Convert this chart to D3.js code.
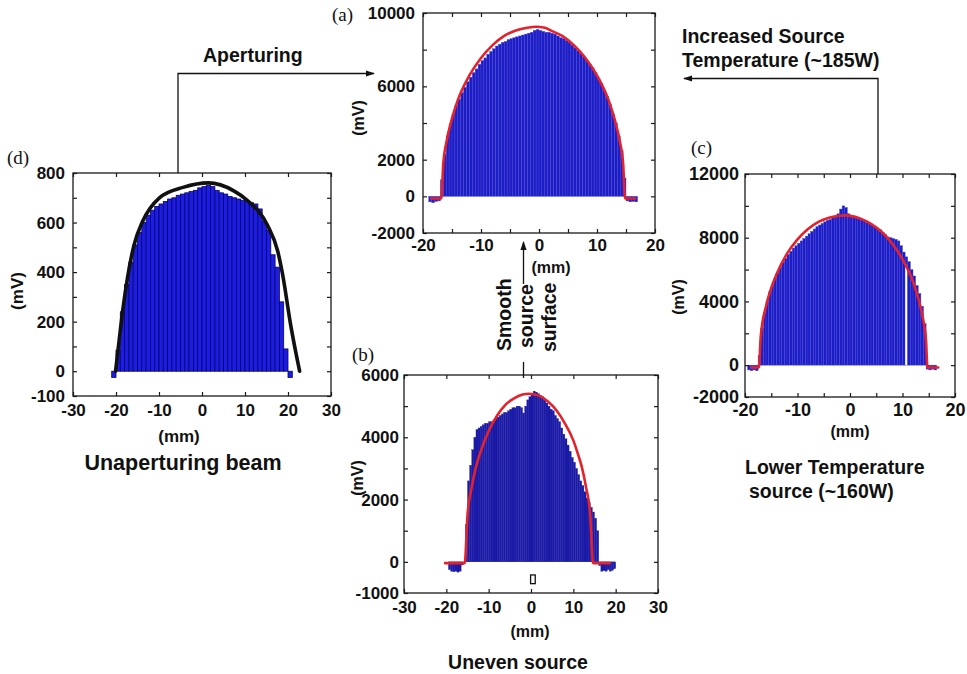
<!DOCTYPE html>
<html>
<head>
<meta charset="utf-8">
<script src="https://cdn.jsdelivr.net/npm/d3@7"></script>
<style>
  html, body { margin: 0; padding: 0; background: #fff; }
  svg { display: block; }
  text { font-family: "Liberation Sans", Arial, Helvetica, sans-serif; font-weight: bold; fill: #111; }
  text.tag { font-family: "Liberation Serif", "Times New Roman", serif; font-weight: normal; }
</style>
</head>
<body>
<svg id="fig" width="967" height="674"></svg>
<script>
// ---------- Panel (a): apertured beam, higher source temperature ----------
const aLabelX = [-20, -10, 0, 10, 20];
const aTickX  = [-20, -15, -10, -5, 0, 5, 10, 15, 20];
const aLabelY = [-2000, 0, 2000, 6000, 10000];
const aTickY  = [-2000, 0, 2000, 4000, 6000, 8000, 10000];
const aBinMM  = [-18.75, -18.25, -17.75, -17.25,
  -16.75, -16.25, -15.75, -15.25, -14.75, -14.25, -13.75, -13.25, -12.75, -12.25, -11.75, -11.25,
  -10.75, -10.25, -9.75, -9.25, -8.75, -8.25, -7.75, -7.25, -6.75, -6.25, -5.75, -5.25,
  -4.75, -4.25, -3.75, -3.25, -2.75, -2.25, -1.75, -1.25, -0.75, -0.25, 0.25, 0.75,
  1.25, 1.75, 2.25, 2.75, 3.25, 3.75, 4.25, 4.75, 5.25, 5.75, 6.25, 6.75,
  7.25, 7.75, 8.25, 8.75, 9.25, 9.75, 10.25, 10.75, 11.25, 11.75, 12.25, 12.75,
  13.25, 13.75, 14.25, 14.75,
  15.25, 15.75, 16.25, 16.75];
const aSignalMV = [-300, -350, -280, -250,
  900, 2300, 3300, 3950, 4500, 4950, 5300, 5650, 5950, 6250, 6500, 6750,
  6950, 7200, 7400, 7550, 7750, 7900, 8050, 8200, 8300, 8400, 8450, 8550,
  8600, 8650, 8700, 8750, 8800, 8850, 8900, 8950, 9050, 9100, 9050, 9000,
  8950, 8950, 8900, 8850, 8750, 8650, 8600, 8500, 8400, 8250, 8100, 7950,
  7800, 7600, 7400, 7200, 7000, 6750, 6450, 6150, 5800, 5450, 5000, 4500,
  4000, 3300, 2500, 1000,
  -250, -300, -280, -300];
const aFitMM = [-18.6, -16.9, -16.8, -16.5, -16, -15, -14, -12, -10, -8, -6, -4, -2, -0.5,
                1, 2, 4, 6, 8, 10, 12, 13, 14, 14.5, 14.8, 14.9, 16.6];
const aFitMV = [-120, -120, 0, 1800, 2900, 4250, 5250, 6600, 7550, 8250, 8750, 9050, 9200, 9250,
                9200, 9050, 8750, 8250, 7550, 6600, 5250, 4250, 2900, 1800, 0, -120, -120];

// ---------- Panel (b): uneven source ----------
const bLabelX = [-30, -20, -10, 0, 10, 20, 30];
const bTickX  = [-30, -20, -10, 0, 10, 20, 30];
const bLabelY = [-1000, 0, 2000, 4000, 6000];
const bTickY  = [-1000, 0, 1000, 2000, 3000, 4000, 5000, 6000];
const bBinMM  = [-19.25, -18.75, -18.25, -17.75, -17.25, -16.75, -16.25,
  -15.25, -14.75, -14.25, -13.75, -13.25, -12.75, -12.25, -11.75, -11.25, -10.75, -10.25,
  -9.75, -9.25, -8.75, -8.25, -7.75, -7.25, -6.75, -6.25, -5.75, -5.25, -4.75, -4.25,
  -3.75, -3.25, -2.75, -2.25, -1.75, -1.25, -0.75, -0.25, 0.25, 0.75, 1.25, 1.75,
  2.25, 2.75, 3.25, 3.75, 4.25, 4.75, 5.25, 5.75, 6.25, 6.75, 7.25, 7.75,
  8.25, 8.75, 9.25, 9.75, 10.25, 10.75, 11.25, 11.75, 12.25, 12.75, 13.25, 13.75,
  14.25, 14.75, 15.25, 15.75,
  16.25, 16.75, 17.25, 17.75, 18.25, 18.75, 19.25, 19.75];
const bSignalMV = [-250, -300, -320, -300, -330, -300, -100,
  1200, 2600, 3100, 3600, 4000, 4250, 4300, 4350, 4400, 4450, 4450,
  4500, 4500, 4550, 4600, 4650, 4700, 4750, 4800, 4800, 4850, 4900, 4950,
  4950, 5000, 5000, 4950, 4780, 5000, 5200, 5300, 5400, 5480, 5450, 5400,
  5350, 5300, 5200, 5100, 5000, 4900, 4850, 4700, 4600, 4500, 4300, 4100,
  3950, 3750, 3550, 3350, 3200, 3000, 2800, 2600, 2450, 2250, 2050, 1900,
  1750, 1600, 1400, 1000,
  -120, -300, -280, -300, -250, -300, -270, -220];
const bFitMM = [-20.3, -15.7, -15.6, -15, -14, -13, -12, -10, -8, -6, -4, -2, -0.5, 1, 2, 4, 6, 8,
                10, 11, 12, 13, 14, 14.6, 14.7, 18.6];
const bFitMV = [-40, -40, 0, 1500, 2400, 3050, 3500, 4200, 4700, 5050, 5250, 5370, 5400, 5370, 5330,
                5150, 4870, 4450, 3900, 3500, 3050, 2400, 1500, 0, -40, -40];
// reference marker drawn under the profile (mm range, mV range)
const bMarkMM = [-0.1, 1.0];
const bMarkMV = [-420, -700];

// ---------- Panel (c): lower temperature source ----------
const cLabelX = [-20, -10, 0, 10, 20];
const cTickX  = [-20, -15, -10, -5, 0, 5, 10, 15, 20];
const cLabelY = [-2000, 0, 4000, 8000, 12000];
const cTickY  = [-2000, 0, 2000, 4000, 6000, 8000, 10000, 12000];
const cBinMM  = [-19.25, -18.75, -18.25, -17.75,
  -17.25, -16.75, -16.25, -15.75, -15.25, -14.75, -14.25, -13.75, -13.25, -12.75, -12.25, -11.75,
  -11.25, -10.75, -10.25, -9.75, -9.25, -8.75, -8.25, -7.75, -7.25, -6.75, -6.25, -5.75,
  -5.25, -4.75, -4.25, -3.75, -3.25, -2.75, -2.25, -1.75, -1.25, -0.75, -0.25, 0.25,
  0.75, 1.25, 1.75, 2.25, 2.75, 3.25, 3.75, 4.25, 4.75, 5.25, 5.75, 6.25,
  6.75, 7.25, 7.75, 8.25, 8.75, 9.25, 9.75, 10.25, 10.75, 11.25, 11.75, 12.25,
  12.75, 13.25, 13.75, 14.25,
  14.75, 15.25, 15.75, 16.25];
const cSignalMV = [-300, -350, -300, -350,
  600, 2300, 3300, 4000, 4600, 5000, 5450, 5800, 6150, 6450, 6700, 6950,
  7150, 7350, 7500, 7650, 7800, 7950, 8100, 8250, 8400, 8550, 8700, 8800,
  8900, 9000, 9100, 9150, 9250, 9350, 9500, 9800, 10000, 9900, 9500, 9400,
  9350, 9300, 9250, 9150, 9050, 8950, 8900, 8800, 8700, 8600, 8500, 8350,
  8200, 8050, 8000, 7950, 7900, 7800, 7500, 7100, 6800, 6500, 6000, 5600,
  5000, 4500, 3700, 2600,
  -250, -300, -250, -300];
const cFitMM = [-18.8, -17.4, -17.3, -17, -16, -15, -14, -12, -10, -8, -6, -4, -2, -1, 0, 2, 4, 6, 8,
                10, 12, 13, 14, 14.5, 14.7, 14.8, 16.8];
const cFitMV = [-150, -150, 0, 1800, 3700, 4850, 5700, 7000, 7900, 8550, 9000, 9250, 9380, 9400, 9370,
                9200, 8870, 8370, 7650, 6650, 5250, 4200, 2750, 1450, 0, -150, -150];
// a dropped detector column (mm position, top of the gap in mV)
const cDropMM = [10.7];
const cDropMV = [6300];

// ---------- Panel (d): unapertured beam ----------
const dLabelX = [-30, -20, -10, 0, 10, 20, 30];
const dTickX  = [-30, -20, -10, 0, 10, 20, 30];
const dLabelY = [-100, 0, 200, 400, 600, 800];
const dTickY  = [-100, 0, 100, 200, 300, 400, 500, 600, 700, 800];
const dBinMM  = [-20.5, -19.5, -18.5, -17.5, -16.5, -15.5, -14.5, -13.5, -12.5, -11.5, -10.5, -9.5,
                 -8.5, -7.5, -6.5, -5.5, -4.5, -3.5, -2.5, -1.5, -0.5, 0.5, 1.5, 2.5, 3.5, 4.5, 5.5,
                 6.5, 7.5, 8.5, 9.5, 10.5, 11.5, 12.5, 13.5, 14.5, 15.5, 16.5, 17.5, 18.5, 19.5, 20.5];
const dSignalMV = [-25, 85, 240, 350, 440, 510, 560, 600, 630, 650, 665, 675,
                   685, 695, 700, 710, 715, 720, 725, 730, 740, 745, 750, 745, 730, 720, 715,
                   705, 700, 695, 690, 685, 680, 675, 655, 605, 570, 470, 420, 280, 90, -25];
const dFitMM = [-20.1, -19.3, -18.4, -17.3, -15.8, -13.8, -9.9, -4.4, 1.5, 7.4, 10.5, 15.2, 17.6, 18.7, 20.7, 22.7];
const dFitMV = [0, 120, 250, 380, 510, 605, 700, 742, 760, 728, 690, 590, 485, 395, 179, 0];

// ---------- drawing ----------
const svg = d3.select("#fig");
const defs = svg.append("defs");
defs.append("marker")
  .attr("id", "head").attr("viewBox", "0 0 10 10")
  .attr("refX", 9).attr("refY", 5)
  .attr("markerWidth", 9).attr("markerHeight", 9)
  .attr("markerUnits", "userSpaceOnUse").attr("orient", "auto")
  .append("path").attr("d", "M0,1.5 L10,5 L0,8.5 Z").attr("fill", "#111");

const fmt = d => String(d);

function drawPanel(p) {
  const x = d3.scaleLinear().domain(p.xDomain).range([p.left, p.right]);
  const y = d3.scaleLinear().domain(p.yDomain).range([p.bottom, p.top]);
  const g = svg.append("g");

  // histogram bins
  const bins = d3.zip(p.binMM, p.signalMV);
  g.append("g").selectAll("rect").data(bins).join("rect")
    .attr("x", d => x(d[0] - p.binW / 2))
    .attr("width", d => x(d[0] + p.binW / 2) - x(d[0] - p.binW / 2))
    .attr("y", d => y(Math.max(0, d[1])))
    .attr("height", d => Math.abs(y(0) - y(d[1])))
    .attr("fill", p.barFill)
    .attr("stroke", p.barStroke)
    .attr("stroke-width", p.barStrokeW);

  if (p.extra) p.extra(g, x, y);

  // fitted profile
  const line = d3.line().x(d => x(d[0])).y(d => y(d[1])).curve(d3.curveMonotoneX);
  g.append("path").datum(d3.zip(p.fitMM, p.fitMV))
    .attr("d", line).attr("fill", "none")
    .attr("stroke", p.fitColor).attr("stroke-width", p.fitW)
    .attr("stroke-linejoin", "round").attr("stroke-linecap", "round");

  // frame
  g.append("rect")
    .attr("x", p.left).attr("y", p.top)
    .attr("width", p.right - p.left).attr("height", p.bottom - p.top)
    .attr("fill", "none").attr("stroke", "#1a1a1a").attr("stroke-width", 1.3);

  // inward ticks on all four sides
  const tickSets = [
    [d3.axisBottom(x).tickValues(p.tickX), `translate(0,${p.bottom})`],
    [d3.axisTop(x).tickValues(p.tickX), `translate(0,${p.top})`],
    [d3.axisLeft(y).tickValues(p.tickY), `translate(${p.left},0)`],
    [d3.axisRight(y).tickValues(p.tickY), `translate(${p.right},0)`]
  ];
  tickSets.forEach(([ax, tr]) => {
    const a = g.append("g").attr("transform", tr)
      .call(ax.tickSize(-4).tickFormat(""));
    a.select(".domain").remove();
    a.attr("color", "#1a1a1a").selectAll("line").attr("stroke-width", 1.2);
  });

  // tick labels
  const xl = g.append("g").attr("transform", `translate(0,${p.bottom})`)
    .call(d3.axisBottom(x).tickValues(p.labelX).tickSize(0).tickPadding(p.xPad).tickFormat(fmt));
  xl.select(".domain").remove();
  xl.attr("font-size", p.fs);
  const yl = g.append("g").attr("transform", `translate(${p.left},0)`)
    .call(d3.axisLeft(y).tickValues(p.labelY).tickSize(0).tickPadding(p.yPad).tickFormat(fmt));
  yl.select(".domain").remove();
  yl.attr("font-size", p.fs);

  // units
  g.append("text").attr("x", p.mmX).attr("y", p.mmY)
    .attr("text-anchor", "middle").attr("font-size", p.unitFs).text("(mm)");
  g.append("text")
    .attr("transform", `translate(${p.mvX},${p.mvY}) rotate(-90)`)
    .attr("text-anchor", "middle").attr("font-size", p.unitFs).text("(mV)");
  g.append("text").attr("class", "tag").attr("x", p.tagX).attr("y", p.tagY)
    .attr("font-size", 19).text(p.tag);
}

drawPanel({
  tag: "(a)", tagX: 332, tagY: 21,
  left: 423, right: 655, top: 13, bottom: 233,
  xDomain: [-20, 20], yDomain: [-2000, 10000],
  labelX: aLabelX, tickX: aTickX, labelY: aLabelY, tickY: aTickY,
  binMM: aBinMM, signalMV: aSignalMV, binW: 0.5,
  barFill: "#1d1dc4", barStroke: "#4848e0", barStrokeW: 0.4,
  fitMM: aFitMM, fitMV: aFitMV, fitColor: "#e3222b", fitW: 2.6,
  fs: 17, xPad: 6, yPad: 8, unitFs: 16,
  mmX: 551, mmY: 273, mvX: 364, mvY: 118
});

drawPanel({
  tag: "(b)", tagX: 352, tagY: 361,
  left: 404, right: 658, top: 375, bottom: 593,
  xDomain: [-30, 30], yDomain: [-1000, 6000],
  labelX: bLabelX, tickX: bTickX, labelY: bLabelY, tickY: bTickY,
  binMM: bBinMM, signalMV: bSignalMV, binW: 0.5,
  barFill: "#1a1aa6", barStroke: "#1a1aa6", barStrokeW: 0.3,
  fitMM: bFitMM, fitMV: bFitMV, fitColor: "#e3222b", fitW: 2.6,
  fs: 17, xPad: 8, yPad: 5, unitFs: 16,
  mmX: 530, mmY: 637, mvX: 363, mvY: 478,
  extra: (g, x, y) => {
    g.append("rect")
      .attr("x", x(bMarkMM[0])).attr("y", y(bMarkMV[0]))
      .attr("width", x(bMarkMM[1]) - x(bMarkMM[0]))
      .attr("height", y(bMarkMV[1]) - y(bMarkMV[0]))
      .attr("fill", "#fff").attr("stroke", "#111").attr("stroke-width", 1.3);
  }
});

drawPanel({
  tag: "(c)", tagX: 691, tagY: 154,
  left: 745, right: 955, top: 174, bottom: 397,
  xDomain: [-20, 20], yDomain: [-2000, 12000],
  labelX: cLabelX, tickX: cTickX, labelY: cLabelY, tickY: cTickY,
  binMM: cBinMM, signalMV: cSignalMV, binW: 0.5,
  barFill: "#1d1dc4", barStroke: "#4848e0", barStrokeW: 0.4,
  fitMM: cFitMM, fitMV: cFitMV, fitColor: "#e3222b", fitW: 2.6,
  fs: 18, xPad: 6, yPad: 6, unitFs: 16,
  mmX: 850, mmY: 437, mvX: 684, mvY: 297,
  extra: (g, x, y) => {
    g.append("g").selectAll("rect").data(d3.zip(cDropMM, cDropMV)).join("rect")
      .attr("x", d => x(d[0]) - 1).attr("width", 2)
      .attr("y", d => y(d[1])).attr("height", d => y(0) - y(d[1]))
      .attr("fill", "#fff");
  }
});

drawPanel({
  tag: "(d)", tagX: 7, tagY: 164,
  left: 73, right: 331, top: 173, bottom: 396,
  xDomain: [-30, 30], yDomain: [-100, 800],
  labelX: dLabelX, tickX: dTickX, labelY: dLabelY, tickY: dTickY,
  binMM: dBinMM, signalMV: dSignalMV, binW: 1,
  barFill: "#1c1ce6", barStroke: "#07075e", barStrokeW: 0.8,
  fitMM: dFitMM, fitMV: dFitMV, fitColor: "#111", fitW: 3.6,
  fs: 17, xPad: 8, yPad: 8, unitFs: 17,
  mmX: 179, mmY: 442, mvX: 23, mvY: 291
});

// ---------- annotations ----------
const big = 19.5;
function label(x, y, s, anchor, size) {
  svg.append("text").attr("x", x).attr("y", y).attr("font-size", size || big)
    .attr("text-anchor", anchor || "start").text(s);
}
label(203, 62, "Aperturing");
label(682, 43, "Increased Source");
label(682, 67, "Temperature (~185W)");
label(183, 470, "Unaperturing beam", "middle", 21.5);
label(518, 669, "Uneven source", "middle");
label(745, 474, "Lower Temperature");
label(749, 498, "source (~160W)");

// rotated note beside the (b) -> (a) arrow
[["Smooth", 511, 351], ["source", 533, 348], ["surface", 556, 352]].forEach(([s, bx, by]) => {
  svg.append("text").attr("transform", `translate(${bx},${by}) rotate(-90)`)
    .attr("font-size", big).text(s);
});

const arrow = (pts, head) => {
  svg.append("path").attr("d", d3.line()(pts))
    .attr("fill", "none").attr("stroke", "#111").attr("stroke-width", 1.3)
    .attr("marker-end", head ? "url(#head)" : null);
};
arrow([[178, 173], [178, 73.5], [374, 73.5]], true);
arrow([[878, 174], [878, 78.5], [684, 78.5]], true);
arrow([[523.5, 284], [523.5, 242]], true);
arrow([[523.5, 362], [523.5, 378]], false);
</script>
</body>
</html>
